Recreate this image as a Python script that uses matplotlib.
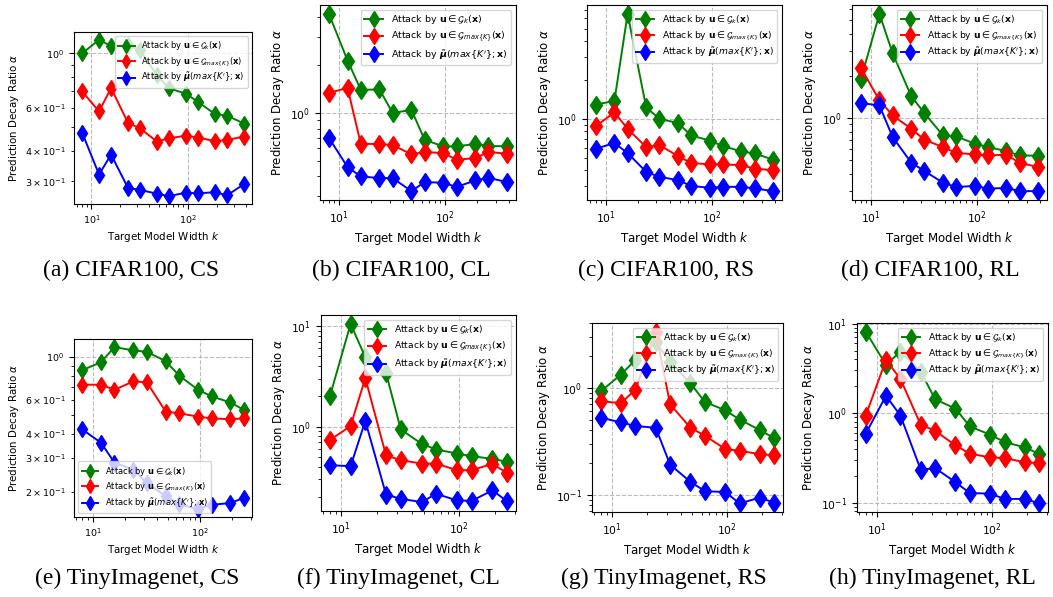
import numpy as np
import matplotlib
matplotlib.use('Agg')
from matplotlib import pyplot as plt

# widths of the target model (x axis)
widths_cifar = [8, 12, 16, 24, 32, 48, 64, 96, 128, 192, 256, 384]
widths_tiny = [8, 12, 16, 24, 32, 48, 64, 96, 128, 192, 256]

# (a) CIFAR100, CS
cifar_cs_gk = [1.0, 1.136, 1.072, 1.079, 1.03, 0.813, 0.72, 0.684, 0.634, 0.565, 0.557, 0.517]
cifar_cs_gmax = [0.70, 0.579, 0.722, 0.52, 0.494, 0.436, 0.45, 0.461, 0.453, 0.438, 0.443, 0.457]
cifar_cs_mu = [0.475, 0.32, 0.386, 0.282, 0.277, 0.267, 0.261, 0.27, 0.268, 0.271, 0.263, 0.292]

# (b) CIFAR100, CL
cifar_cl_gk = [4.21, 2.14, 1.40, 1.41, 1.0, 1.05, 0.68, 0.617, 0.617, 0.64, 0.62, 0.62]
cifar_cl_gmax = [1.34, 1.44, 0.64, 0.64, 0.63, 0.55, 0.57, 0.56, 0.51, 0.52, 0.57, 0.555]
cifar_cl_mu = [0.70, 0.457, 0.40, 0.39, 0.39, 0.323, 0.368, 0.365, 0.343, 0.377, 0.392, 0.368]

# (c) CIFAR100, RS
cifar_rs_gk = [1.29, 1.38, 6.5, 1.23, 1.0, 0.93, 0.745, 0.68, 0.616, 0.56, 0.54, 0.484]
cifar_rs_gmax = [0.878, 1.125, 0.838, 0.605, 0.627, 0.516, 0.456, 0.445, 0.445, 0.438, 0.413, 0.40]
cifar_rs_mu = [0.588, 0.65, 0.544, 0.389, 0.356, 0.336, 0.303, 0.293, 0.298, 0.298, 0.29, 0.276]

# (d) CIFAR100, RL
cifar_rl_gk = [1.89, 5.56, 2.91, 1.436, 1.085, 0.752, 0.74, 0.656, 0.62, 0.58, 0.54, 0.538]
cifar_rl_gmax = [2.29, 1.34, 1.045, 0.839, 0.70, 0.62, 0.563, 0.55, 0.54, 0.547, 0.477, 0.447]
cifar_rl_mu = [1.28, 1.23, 0.732, 0.48, 0.418, 0.345, 0.321, 0.327, 0.313, 0.316, 0.30, 0.30]

# (e) TinyImagenet, CS
tiny_cs_gk = [0.852, 0.938, 1.123, 1.079, 1.062, 0.949, 0.799, 0.675, 0.624, 0.58, 0.531]
tiny_cs_gmax = [0.717, 0.717, 0.675, 0.746, 0.738, 0.52, 0.51, 0.49, 0.48, 0.475, 0.48]
tiny_cs_mu = [0.421, 0.359, 0.283, 0.26, 0.222, 0.19, 0.172, 0.163, 0.171, 0.175, 0.186]

# (f) TinyImagenet, CL
tiny_cl_gk = [2.0, 10.5, 4.9, 3.41, 0.94, 0.676, 0.593, 0.541, 0.509, 0.479, 0.447]
tiny_cl_gmax = [0.736, 1.015, 3.04, 0.517, 0.464, 0.43, 0.43, 0.369, 0.369, 0.427, 0.346]
tiny_cl_mu = [0.414, 0.405, 1.14, 0.211, 0.192, 0.178, 0.215, 0.185, 0.183, 0.233, 0.181]

# (g) TinyImagenet, RS
tiny_rs_gk = [0.925, 1.33, 1.82, 2.65, 1.75, 1.1, 0.737, 0.617, 0.505, 0.402, 0.337]
tiny_rs_gmax = [0.747, 0.72, 0.958, 3.35, 0.70, 0.423, 0.357, 0.268, 0.257, 0.24, 0.233]
tiny_rs_mu = [0.527, 0.474, 0.439, 0.423, 0.191, 0.132, 0.108, 0.106, 0.083, 0.094, 0.084]

# (h) TinyImagenet, RL
tiny_rl_gk = [8.14, 3.46, 4.87, 2.91, 1.43, 1.12, 0.71, 0.574, 0.475, 0.414, 0.349]
tiny_rl_gmax = [0.934, 3.93, 2.41, 0.741, 0.635, 0.436, 0.352, 0.32, 0.315, 0.282, 0.277]
tiny_rl_mu = [0.588, 1.56, 0.94, 0.233, 0.243, 0.169, 0.128, 0.126, 0.11, 0.11, 0.098]

captions = ["(a) CIFAR100, CS", "(b) CIFAR100, CL", "(c) CIFAR100, RS", "(d) CIFAR100, RL",
            "(e) TinyImagenet, CS", "(f) TinyImagenet, CL", "(g) TinyImagenet, RS", "(h) TinyImagenet, RL"]

labels = [r'Attack by $\mathbf{u} \in \mathcal{G}_k(\mathbf{x})$',
          r'Attack by $\mathbf{u} \in \mathcal{G}_{max\{K\}}(\mathbf{x})$',
          r"Attack by $\tilde{\boldsymbol{\mu}}(max\{K'\};\mathbf{x})$"]

W, H = 1053, 597

# each panel: data, legend loc, axes box in px (left, top, right, bottom),
# caption centre in px, font scale, legend font size
panels = [
    (widths_cifar, cifar_cs_gk, cifar_cs_gmax, cifar_cs_mu, 'upper right', (74, 32, 252, 204), (131, 270), 1.0, 6.0),
    (widths_cifar, cifar_cl_gk, cifar_cl_gmax, cifar_cl_mu, 'upper right', (320, 5, 516, 200), (401, 270), 1.14, 6.8),
    (widths_cifar, cifar_rs_gk, cifar_rs_gmax, cifar_rs_mu, 'upper right', (587, 5, 782, 200), (666, 270), 1.14, 6.6),
    (widths_cifar, cifar_rl_gk, cifar_rl_gmax, cifar_rl_mu, 'upper right', (852, 5, 1047, 200), (930, 270), 1.14, 6.6),
    (widths_tiny, tiny_cs_gk, tiny_cs_gmax, tiny_cs_mu, 'lower left', (74, 339, 252, 517), (137, 578), 1.0, 6.0),
    (widths_tiny, tiny_cl_gk, tiny_cl_gmax, tiny_cl_mu, 'upper right', (321, 315, 516, 511), (398, 578), 1.14, 6.7),
    (widths_tiny, tiny_rs_gk, tiny_rs_gmax, tiny_rs_mu, 'upper right', (592, 323, 783, 512), (664, 578), 1.14, 6.6),
    (widths_tiny, tiny_rl_gk, tiny_rl_gmax, tiny_rl_mu, 'upper right', (857, 323, 1048, 512), (932, 578), 1.14, 6.6),
]

fig = plt.figure(figsize=(W / 100, H / 100), dpi=100)

for i, (xs, gk, gmax, mu, loc, box, cap, s, lfs) in enumerate(panels):
    x0, y0, x1, y1 = box
    ms = 8.2 * s
    ax = fig.add_axes([x0 / W, 1 - y1 / H, (x1 - x0) / W, (y1 - y0) / H])
    ax.plot(xs, gk, color='g', marker='d', markersize=ms, linewidth=1.4, label=labels[0])
    ax.plot(xs, gmax, color='r', marker='d', markersize=ms, linewidth=1.4, label=labels[1])
    ax.plot(xs, mu, color='b', marker='d', markersize=ms, linewidth=1.4, label=labels[2])
    ax.set_xscale('log')
    ax.set_yscale('log')
    ax.grid(True, which='major', linestyle='--', color='#bbbbbb', linewidth=0.8)
    ax.tick_params(which='both', labelsize=6.8 * s)
    ax.set_xlabel(r'Target Model Width $k$', fontsize=7.4 * s, labelpad=3)
    ax.set_ylabel(r'Prediction Decay Ratio $\alpha$', fontsize=7.4 * s, labelpad=3)
    ax.legend(loc=loc, fontsize=lfs, labelspacing=0.35, markerscale=0.85)
    fig.text(cap[0] / W, 1 - cap[1] / H, captions[i], ha='center', va='center',
             fontfamily='Liberation Serif', fontsize=17)

plt.savefig('out.png', dpi=100)
